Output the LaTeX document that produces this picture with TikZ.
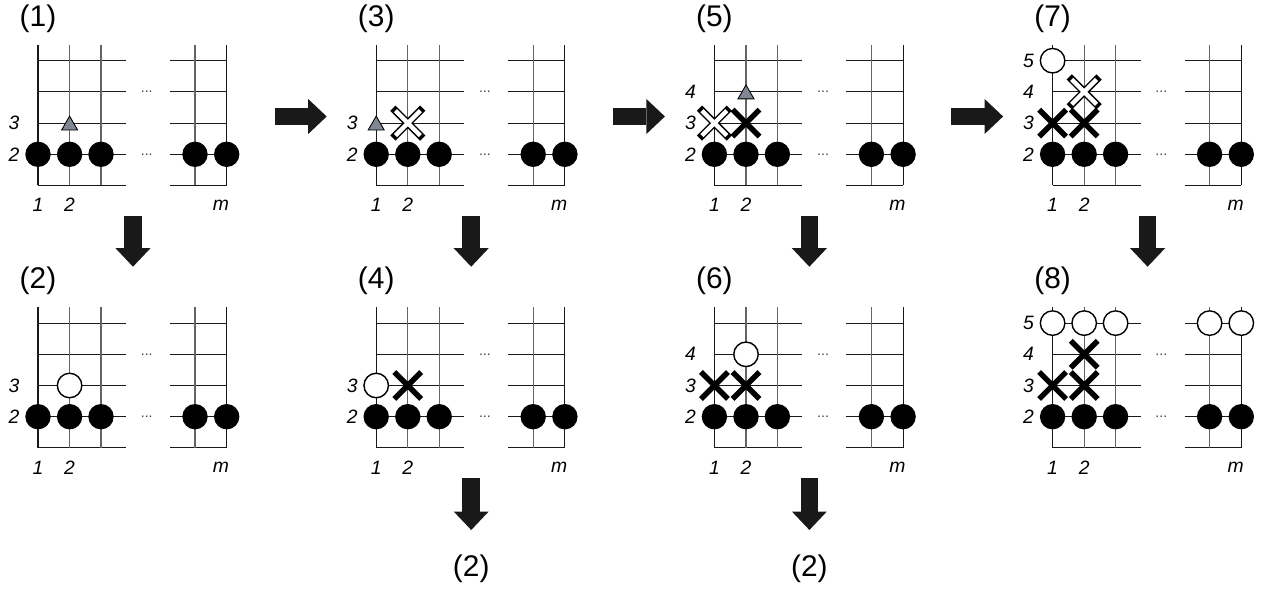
\documentclass[tikz,border=0pt]{standalone}
\usepackage{fontspec}
\setmainfont{Liberation Sans}
\usepackage{tikz}
\usetikzlibrary{arrows.meta, shapes.geometric, shapes.misc}
\definecolor{trigray}{RGB}{128,134,148}
\definecolor{vgray}{RGB}{100,100,100}

\tikzset{
  hline/.style={draw=black!90, line width=0.65pt},
  vline/.style={draw=vgray, line width=0.65pt},
  dots/.style={inner sep=0pt, text=black!75, font=\fontsize{8}{9}\selectfont},
  rowlab/.style={inner sep=0pt, font=\fontsize{11}{13}\selectfont\itshape},
  steplab/.style={inner sep=0pt, font=\fontsize{17}{20}\selectfont},
  blackstone/.style={circle, fill=black, minimum size=0.508cm, inner sep=0pt},
  whitestone/.style={circle, draw=black, fill=white, line width=0.8pt, minimum size=0.49cm, inner sep=0pt},
  blackcross/.style={cross out, draw=black, line width=3.1pt, minimum size=0.43cm, inner sep=0pt},
  crossrim/.style={cross out, draw=black, line width=4.2pt, minimum size=0.45cm, inner sep=0pt},
  crosscore/.style={cross out, draw=white, line width=2.5pt, minimum size=0.41cm, inner sep=0pt},
  tri/.style={regular polygon, regular polygon sides=3, fill=trigray, draw=black, line width=0.5pt, minimum size=0.37cm, inner sep=0pt},
  bigarrow/.style={draw=black!90, line width=0.35cm, -{Triangle[width=0.7cm, length=0.37cm, line width=0pt]}},
  board/.pic={
    % grid: rows 1..5, columns 1,2,3 and m-1,m
    \foreach \y in {-31.2,0,31.2,62.4,93.6} {
      \draw[hline] (0,\y) -- (88,\y);
      \draw[hline] (132,\y) -- (188.7,\y);
    }
    \foreach \x in {31.6,63,157} \draw[vline] (\x,-31.2) -- (\x,109.3);
    \foreach \x in {0,188.7} \draw[hline] (\x,-31.2) -- (\x,109.3);
    \foreach \y [count=\i] in {0,62.4} \node[dots] (-d\i) at (108.7,\y) {...};
    % row 2 is full
    \foreach \x [count=\i] in {0,31.6,63,157,188.7} \node[blackstone] (-s\i) at (\x,0) {};
    \foreach \r in {2,...,#1} \node[rowlab] (-r\r) at (-24,{(\r-2)*31.2}) {\r};
    \node[rowlab] (-c1) at (0,-50.7) {1};
    \node[rowlab] (-c2) at (31.6,-50.7) {2};
    \node[rowlab] (-cm) at (183,-50.7) {m};
    \coordinate (-east) at (237,37.8);
    \coordinate (-west) at (-49.5,37.8);
    \coordinate (-south) at (95,-61.7);
    \coordinate (-north) at (95,150);
  }
}

\begin{document}
\begin{tikzpicture}[x=0.02cm, y=0.02cm]
\useasboundingbox (0,0) rectangle (1269,589);

% (1)
\begin{scope}[shift={(38,434.7)}]
  \pic (b1) {board=3};
  \node[steplab] (b1-lab) at (0,136) {(1)};
  \node[tri] (b1-t) at (31.6,28.9) {};
\end{scope}
% (2)
\begin{scope}[shift={(38,172.3)}]
  \pic (b2) {board=3};
  \node[steplab] (b2-lab) at (0,136) {(2)};
  \node[whitestone] (b2-w) at (31.6,31.2) {};
\end{scope}
% (3)
\begin{scope}[shift={(376.2,434.7)}]
  \pic (b3) {board=3};
  \node[steplab] (b3-lab) at (0,136) {(3)};
  \node[tri] (b3-t) at (0,28.9) {};
  \node[crossrim] (b3-x) at (31.6,31.2) {};
  \node[crosscore] (b3-xc) at (b3-x) {};
\end{scope}
% (4)
\begin{scope}[shift={(376.2,172.3)}]
  \pic (b4) {board=3};
  \node[steplab] (b4-lab) at (0,136) {(4)};
  \node[whitestone] (b4-w) at (0,31.2) {};
  \node[blackcross] (b4-x) at (31.6,31.2) {};
\end{scope}
% (5)
\begin{scope}[shift={(714.4,434.7)}]
  \pic (b5) {board=4};
  \node[steplab] (b5-lab) at (0,136) {(5)};
  \node[crossrim] (b5-x1) at (0,31.2) {};
  \node[crosscore] (b5-x1c) at (b5-x1) {};
  \node[blackcross] (b5-x2) at (31.6,31.2) {};
  \node[tri] (b5-t) at (31.6,60.1) {};
\end{scope}
% (6)
\begin{scope}[shift={(714.4,172.3)}]
  \pic (b6) {board=4};
  \node[steplab] (b6-lab) at (0,136) {(6)};
  \node[blackcross] (b6-x1) at (0,31.2) {};
  \node[blackcross] (b6-x2) at (31.6,31.2) {};
  \node[whitestone] (b6-w) at (31.6,62.4) {};
\end{scope}
% (7)
\begin{scope}[shift={(1052.6,434.7)}]
  \pic (b7) {board=5};
  \node[steplab] (b7-lab) at (0,136) {(7)};
  \node[blackcross] (b7-x1) at (0,31.2) {};
  \node[blackcross] (b7-x2) at (31.6,31.2) {};
  \node[crossrim] (b7-x3) at (31.6,62.4) {};
  \node[crosscore] (b7-x3c) at (b7-x3) {};
  \node[whitestone] (b7-w) at (0,93.6) {};
\end{scope}
% (8)
\begin{scope}[shift={(1052.6,172.3)}]
  \pic (b8) {board=5};
  \node[steplab] (b8-lab) at (0,136) {(8)};
  \node[blackcross] (b8-x1) at (0,31.2) {};
  \node[blackcross] (b8-x2) at (31.6,31.2) {};
  \node[blackcross] (b8-x3) at (31.6,62.4) {};
  \foreach \x [count=\i] in {0,31.6,63,157,188.7}
    \node[whitestone] (b8-w\i) at (\x,93.6) {};
\end{scope}

% back to (2)
\node[steplab] (back4) at (471.2,20) {(2)};
\node[steplab] (back6) at (809.4,20) {(2)};

\draw[bigarrow] (b1-east) -- (b3-west);
\draw[bigarrow] (b3-east) -- (b5-west);
\draw[bigarrow] (b5-east) -- (b7-west);
\draw[bigarrow] (b1-south) -- (b2-north);
\draw[bigarrow] (b3-south) -- (b4-north);
\draw[bigarrow] (b5-south) -- (b6-north);
\draw[bigarrow] (b7-south) -- (b8-north);
\draw[bigarrow, shorten >=0.78cm] (b4-south) -- (back4.center);
\draw[bigarrow, shorten >=0.78cm] (b6-south) -- (back6.center);
\end{tikzpicture}
\end{document}
